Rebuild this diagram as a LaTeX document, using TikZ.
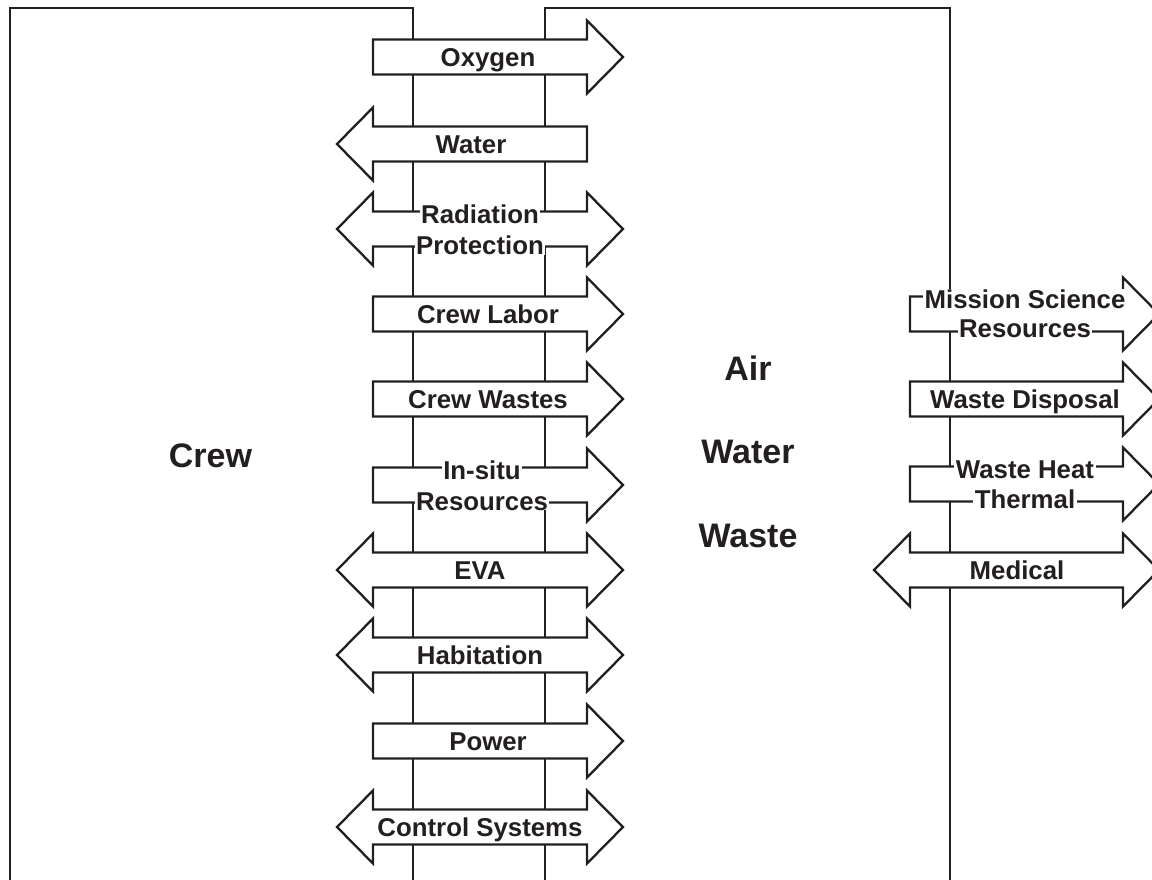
\documentclass[tikz,border=0pt]{standalone}
\usepackage{fontspec}
\setmainfont{Liberation Sans}
\definecolor{inkline}{RGB}{35,31,32}
\tikzset{
  wall/.style={draw=inkline, line width=2.4pt},
  flw/.style={draw=inkline, fill=white, line width=2.3pt, line join=miter},
  lbl/.style={font=\fontsize{25.8}{30}\selectfont\bfseries, text=inkline, fill=white,
              anchor=base, inner xsep=1.5pt, inner ysep=0pt},
  big/.style={font=\fontsize{34}{40}\selectfont\bfseries, text=inkline, anchor=base},
}
% arrow outlines: #1 centre y, #2 body left x, #3 body right x
\newcommand{\rflow}[3]{%
  \draw[flw] (#2,#1-17.5) -- (#3,#1-17.5) -- (#3,#1-36.5) -- (#3+36,#1)
    -- (#3,#1+36.5) -- (#3,#1+17.5) -- (#2,#1+17.5) -- cycle;}
\newcommand{\lflow}[3]{%
  \draw[flw] (#3,#1-17.5) -- (#2,#1-17.5) -- (#2,#1-36.5) -- (#2-36,#1)
    -- (#2,#1+36.5) -- (#2,#1+17.5) -- (#3,#1+17.5) -- cycle;}
\newcommand{\bflow}[3]{%
  \draw[flw] (#2,#1-17.5) -- (#3,#1-17.5) -- (#3,#1-36.5) -- (#3+36,#1)
    -- (#3,#1+36.5) -- (#3,#1+17.5) -- (#2,#1+17.5) -- (#2,#1+36.5)
    -- (#2-36,#1) -- (#2,#1-36.5) -- cycle;}

\begin{document}
\begin{tikzpicture}[x=1pt, y=-1pt]
    \useasboundingbox (0,0) rectangle (1152,879);
    % module walls
    \draw[wall] (10,890) -- (10,8) -- (413,8) -- (413,890);
    \draw[wall] (545,890) -- (545,8) -- (950,8) -- (950,890);
    \node[big] (crew) at (210.5,467) {Crew};
    \node[big] (air) at (748,380) {Air};
    \node[big] (water) at (748,463) {Water};
    \node[big] (waste) at (748,547) {Waste};
    % crew <-> life support
    \rflow{57}{373}{587}
    \node[lbl] (oxy) at (488,66.5) {Oxygen};
    \lflow{144}{373}{587}
    \node[lbl] (wat) at (471,153.5) {Water};
    \bflow{229}{373}{587}
    \node[lbl] (rad) at (480,223.5) {Radiation};
    \node[lbl] (prot) at (480,254.5) {Protection};
    \rflow{314}{373}{587}
    \node[lbl] (labor) at (488,323.5) {Crew Labor};
    \rflow{399}{373}{587}
    \node[lbl] (cwaste) at (488,408.5) {Crew Wastes};
    \rflow{485}{373}{587}
    \node[lbl] (insitu) at (482,479) {In-situ};
    \node[lbl] (isres) at (482,510) {Resources};
    \bflow{570}{373}{587}
    \node[lbl] (eva) at (480,579.5) {EVA};
    \bflow{655}{373}{587}
    \node[lbl] (hab) at (480,664.5) {Habitation};
    \rflow{741}{373}{587}
    \node[lbl] (pow) at (488,750.5) {Power};
    \bflow{827}{373}{587}
    \node[lbl] (ctrl) at (480,836.5) {Control Systems};
    % life support -> outside
    \rflow{314}{910}{1123}
    \node[lbl] (msci) at (1025,308) {Mission Science};
    \node[lbl] (msres) at (1025,337.5) {Resources};
    \rflow{399}{910}{1123}
    \node[lbl] (wdisp) at (1025,408.5) {Waste Disposal};
    \rflow{484}{910}{1123}
    \node[lbl] (wheat) at (1025,478) {Waste Heat};
    \node[lbl] (therm) at (1025,508) {Thermal};
    \bflow{570}{910}{1123}
    \node[lbl] (med) at (1017,579.5) {Medical};
\end{tikzpicture}
\end{document}
